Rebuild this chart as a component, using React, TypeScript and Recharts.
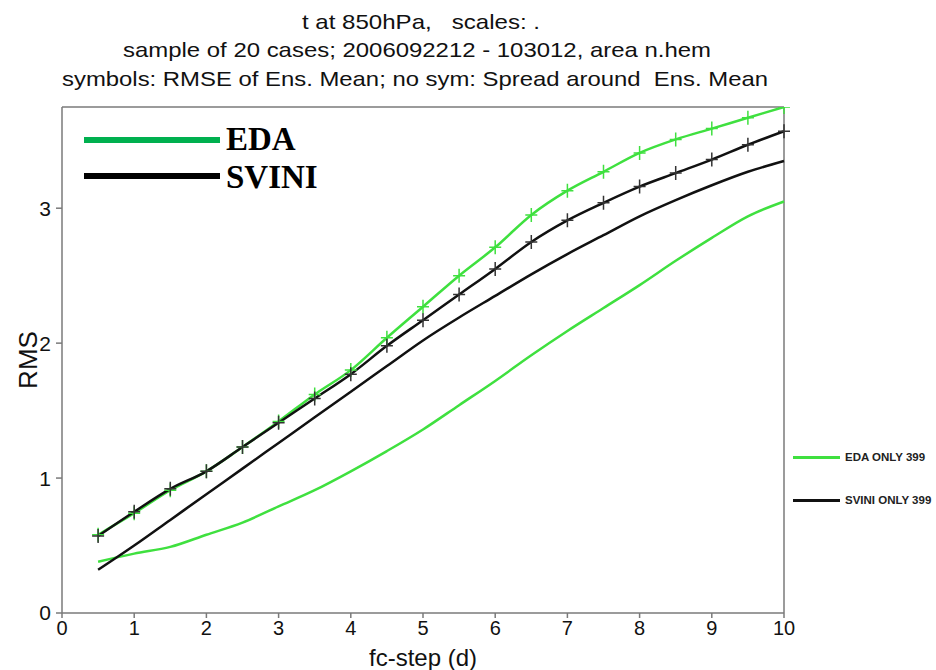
import { LineChart, Line, XAxis, YAxis, ReferenceLine } from 'recharts';

// forecast step (days)
const steps = [0.5, 1, 1.5, 2, 2.5, 3, 3.5, 4, 4.5, 5, 5.5, 6, 6.5, 7, 7.5, 8, 8.5, 9, 9.5, 10];

// RMSE of ensemble mean (symbols)
const edaRmse = [0.58, 0.74, 0.91, 1.05, 1.23, 1.42, 1.62, 1.8, 2.04, 2.27, 2.5, 2.71, 2.95, 3.13, 3.27, 3.41, 3.51, 3.59, 3.67, 3.75];
const sviniRmse = [0.57, 0.75, 0.92, 1.05, 1.23, 1.41, 1.59, 1.77, 1.98, 2.17, 2.36, 2.55, 2.75, 2.91, 3.04, 3.16, 3.26, 3.36, 3.47, 3.57];

// spread around ensemble mean (no symbols)
const edaSpread = [0.38, 0.44, 0.49, 0.58, 0.67, 0.79, 0.91, 1.05, 1.2, 1.36, 1.54, 1.72, 1.91, 2.09, 2.26, 2.43, 2.61, 2.78, 2.94, 3.05];
const sviniSpread = [0.32, 0.5, 0.69, 0.88, 1.07, 1.26, 1.45, 1.64, 1.83, 2.02, 2.19, 2.35, 2.51, 2.66, 2.8, 2.94, 3.06, 3.17, 3.27, 3.35];

const xTicks = [0, 1, 2, 3, 4, 5, 6, 7, 8, 9, 10];
const yTicks = [0, 1, 2, 3];

const titleLines = [
    't at 850hPa,   scales: .',
    'sample of 20 cases; 2006092212 - 103012, area n.hem',
    'symbols: RMSE of Ens. Mean; no sym: Spread around  Ens. Mean',
];

const GREEN = '#3fe03f';
const BLACK = '#111111';
const AXIS = '#7a7a7a';
const FONT = '"Liberation Sans", Arial, Helvetica, sans-serif';

const data = steps.map((s, i) => ({
    step: s,
    edaRmse: edaRmse[i],
    sviniRmse: sviniRmse[i],
    edaSpread: edaSpread[i],
    sviniSpread: sviniSpread[i],
}));

const plusDot = (color: string) => (props: any) => {
    const { cx, cy, index } = props;
    if (cx == null || cy == null) return <g key={`p-${index}`} />;
    return (
        <path
            key={`p-${index}`}
            d={`M${cx - 6},${cy}H${cx + 6}M${cx},${cy - 7}V${cy + 7}`}
            stroke={color}
            strokeWidth={1.5}
            fill="none"
        />
    );
};

export default function App() {
    return (
        <div style={{ position: 'absolute', left: 0, top: 0, width: 936, height: 670, background: '#fff', fontFamily: FONT }}>
            {/* title block */}
            <svg width={936} height={100} style={{ position: 'absolute', left: 0, top: 0 }}>
                <text x={421} y={29} textAnchor="middle" fontSize={21} fill="#111" textLength={238} lengthAdjust="spacingAndGlyphs" style={{ whiteSpace: 'pre' }}>{titleLines[0]}</text>
                <text x={417} y={57} textAnchor="middle" fontSize={21} fill="#111" textLength={588} lengthAdjust="spacingAndGlyphs" style={{ whiteSpace: 'pre' }}>{titleLines[1]}</text>
                <text x={415} y={86} textAnchor="middle" fontSize={21} fill="#111" textLength={706} lengthAdjust="spacingAndGlyphs" style={{ whiteSpace: 'pre' }}>{titleLines[2]}</text>
            </svg>

            <LineChart
                width={936}
                height={670}
                data={data}
                margin={{ top: 107, right: 152, bottom: 0, left: 0 }}
                style={{ position: 'absolute', left: 0, top: 0, fontFamily: FONT }}
            >
                <XAxis
                    dataKey="step"
                    type="number"
                    domain={[0, 10]}
                    ticks={xTicks}
                    height={57}
                    stroke={AXIS}
                    strokeWidth={1.5}
                    tickSize={5}
                    tickMargin={3}
                    tick={{ fill: '#111', fontSize: 20 }}
                    label={{ value: 'fc-step (d)', position: 'insideBottom', offset: 4, fill: '#111', fontSize: 24 }}
                />
                <YAxis
                    type="number"
                    domain={[0, 3.75]}
                    ticks={yTicks}
                    width={62}
                    allowDataOverflow
                    stroke={AXIS}
                    strokeWidth={1.5}
                    tickSize={6}
                    tickMargin={5}
                    tick={{ fill: '#111', fontSize: 21 }}
                    label={{ value: 'RMS', angle: -90, position: 'center', dx: -3, fill: '#111', fontSize: 26 }}
                />
                <ReferenceLine y={3.75} stroke={AXIS} strokeWidth={1.5} />
                <ReferenceLine x={10} stroke={AXIS} strokeWidth={1.5} />

                <Line type="monotone" dataKey="edaSpread" stroke={GREEN} strokeWidth={2.5} dot={false} isAnimationActive={false} />
                <Line type="monotone" dataKey="edaRmse" stroke={GREEN} strokeWidth={2.5} dot={plusDot(GREEN)} isAnimationActive={false} />
                <Line type="monotone" dataKey="sviniSpread" stroke={BLACK} strokeWidth={2.5} dot={false} isAnimationActive={false} />
                <Line type="monotone" dataKey="sviniRmse" stroke={BLACK} strokeWidth={2.5} dot={plusDot('#333')} isAnimationActive={false} />
            </LineChart>

            {/* top-left legend inside the plot */}
            <div style={{ position: 'absolute', left: 84, top: 137, width: 136, height: 6, background: '#00b04f' }} />
            <div style={{ position: 'absolute', left: 226, top: 121, fontFamily: '"Liberation Serif", "Times New Roman", serif', fontWeight: 'bold', fontSize: 33, lineHeight: '36px', color: '#000' }}>EDA</div>
            <div style={{ position: 'absolute', left: 84, top: 173, width: 136, height: 6, background: '#000' }} />
            <div style={{ position: 'absolute', left: 226, top: 159, fontFamily: '"Liberation Serif", "Times New Roman", serif', fontWeight: 'bold', fontSize: 33, lineHeight: '36px', color: '#000' }}>SVINI</div>

            {/* right legend outside the plot */}
            <div style={{ position: 'absolute', left: 793, top: 456, width: 47, height: 3, background: GREEN }} />
            <div style={{ position: 'absolute', left: 845, top: 450, fontWeight: 'bold', fontSize: 11.5, lineHeight: '15px', color: '#222', whiteSpace: 'nowrap' }}>EDA ONLY 399</div>
            <div style={{ position: 'absolute', left: 793, top: 499, width: 47, height: 3, background: BLACK }} />
            <div style={{ position: 'absolute', left: 845, top: 493, fontWeight: 'bold', fontSize: 11.5, lineHeight: '15px', color: '#222', whiteSpace: 'nowrap' }}>SVINI ONLY 399</div>
        </div>
    );
}
